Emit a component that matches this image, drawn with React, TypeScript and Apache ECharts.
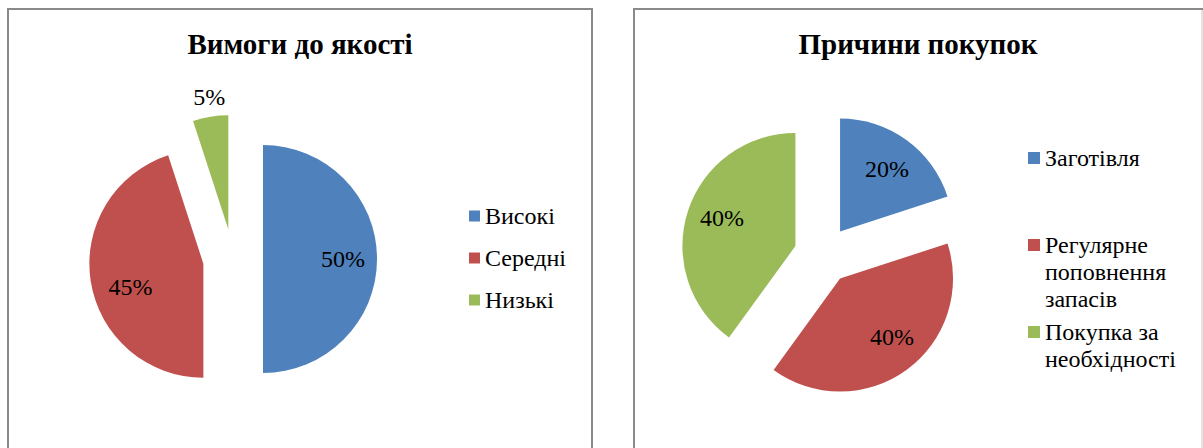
import React, { useEffect, useRef } from 'react';
import * as echarts from 'echarts';

// ---- data ----
const qualityTitle = 'Вимоги до якості';
const qualityCategories = ['Високі', 'Середні', 'Низькі'];
const qualityValues = [50, 45, 5];

const reasonsTitle = 'Причини покупок';
const reasonCategories = ['Заготівля', 'Регулярне поповнення запасів', 'Покупка за необхідності'];
const reasonValues = [20, 40, 40];
const reasonLegendLines = [['Заготівля'], ['Регулярне', 'поповнення', 'запасів'], ['Покупка за', 'необхідності']];

// ---- style / layout ----
const COLORS = ['#4F81BD', '#C0504D', '#9BBB59'];
const FONT = 'Liberation Serif';
const BORDER = '#8a8a8a';

type PieLayout = { center: [number, number]; radius: number; offset: number; labelPolar: [number, number][] };
const LEFT_PIE: PieLayout = { center: [233, 259], radius: 114, offset: 30, labelPolar: [[90, 80], [252.5, 76.5], [351.8, 133.4]] };
const RIGHT_PIE: PieLayout = { center: [823, 255], radius: 113, offset: 29, labelPolar: [[36.9, 78], [138.4, 78.3], [290.9, 78.6]] };
const LEGEND_LINE = 27;
const RIGHT_LEGEND_FIRST_LINE_Y = [158, 245, 332];

function makeLabelLayout(values: number[], pie: PieLayout) {
  const total = values.reduce((a, b) => a + b, 0);
  const mids: number[] = [];
  let cum = 0;
  values.forEach((v) => {
    mids.push(((cum + v / 2) / total) * 360);
    cum += v;
  });
  return (params: any) => {
    const i = params.dataIndex;
    const m = (mids[i] * Math.PI) / 180;
    const sx = pie.center[0] + pie.offset * Math.sin(m);
    const sy = pie.center[1] - pie.offset * Math.cos(m);
    const [a, r] = pie.labelPolar[i];
    const ar = (a * Math.PI) / 180;
    return { x: sx + r * Math.sin(ar), y: sy - r * Math.cos(ar), align: 'center', verticalAlign: 'middle' };
  };
}

// exploded slices (no labels)
function pieSeries(names: string[], values: number[], pie: PieLayout) {
  return {
    type: 'pie',
    center: pie.center,
    radius: pie.radius,
    startAngle: 90,
    clockwise: true,
    selectedMode: 'multiple',
    selectedOffset: pie.offset,
    emphasis: { disabled: true, scale: false },
    itemStyle: { borderWidth: 0 },
    label: { show: false },
    labelLine: { show: false },
    data: names.map((name, i) => ({
      name,
      value: values[i],
      selected: true,
      itemStyle: { color: COLORS[i], borderWidth: 0 },
      select: { itemStyle: { color: COLORS[i], borderWidth: 0 } },
    })),
  };
}

// transparent twin series carrying the percentage labels
function labelSeries(names: string[], values: number[], pie: PieLayout) {
  return {
    type: 'pie',
    center: pie.center,
    radius: pie.radius,
    startAngle: 90,
    clockwise: true,
    selectedMode: false,
    silent: true,
    avoidLabelOverlap: false,
    percentPrecision: 0,
    emphasis: { disabled: true, scale: false },
    itemStyle: { color: 'rgba(0,0,0,0)', borderWidth: 0 },
    label: { show: true, position: 'inside', formatter: '{d}%', color: '#000', fontFamily: FONT, fontSize: 24 },
    labelLine: { show: false },
    labelLayout: makeLabelLayout(values, pie),
    data: names.map((name, i) => ({ name, value: values[i] })),
  };
}

const legendText = { fontFamily: FONT, fontSize: 24, color: '#000' };

export default function App() {
  const ref = useRef<HTMLDivElement>(null);
  useEffect(() => {
    if (!ref.current) return;
    const chart = echarts.init(ref.current, null, { renderer: 'svg' });
    chart.setOption({
      animation: false,
      backgroundColor: '#fff',
      color: COLORS,
      textStyle: { fontFamily: FONT },
      title: [
        { text: qualityTitle, left: 300, top: 29, textAlign: 'center', padding: 0, textStyle: { fontFamily: FONT, fontSize: 29, fontWeight: 'bold', color: '#000' } },
        { text: reasonsTitle, left: 918, top: 29, textAlign: 'center', padding: 0, textStyle: { fontFamily: FONT, fontSize: 29, fontWeight: 'bold', color: '#000' } },
      ],
      legend: [
        {
          orient: 'vertical', left: 469, top: 204, padding: 0, icon: 'rect', itemWidth: 11, itemHeight: 11, itemGap: 18,
          selectedMode: false, data: qualityCategories, textStyle: { ...legendText, lineHeight: 24 },
        },
        ...reasonCategories.map((name, i) => {
          const lines = reasonLegendLines[i];
          // blank lines above keep the marker level with the first text line
          const text = new Array(lines.length - 1).fill('').concat(lines).join('\n');
          const blockLines = lines.length * 2 - 1;
          return {
            orient: 'vertical', left: 1028, top: RIGHT_LEGEND_FIRST_LINE_Y[i] - (blockLines * LEGEND_LINE) / 2, padding: 0,
            icon: 'rect', itemWidth: 12, itemHeight: 12, selectedMode: false, formatter: () => text, data: [name],
            textStyle: { ...legendText, lineHeight: LEGEND_LINE },
          };
        }),
      ],
      graphic: [
        { type: 'rect', shape: { x: 8, y: 9, width: 584, height: 470 }, style: { fill: 'none', stroke: BORDER, lineWidth: 2 }, silent: true },
        { type: 'line', shape: { x1: 633, y1: 9, x2: 1203, y2: 9 }, style: { stroke: BORDER, lineWidth: 2 }, silent: true },
        { type: 'line', shape: { x1: 634, y1: 8, x2: 634, y2: 448 }, style: { stroke: BORDER, lineWidth: 2 }, silent: true },
        { type: 'line', shape: { x1: 1202, y1: 10, x2: 1202, y2: 448 }, style: { stroke: '#c8c8c8', lineWidth: 1 }, silent: true },
      ],
      series: [
        pieSeries(qualityCategories, qualityValues, LEFT_PIE),
        pieSeries(reasonCategories, reasonValues, RIGHT_PIE),
        labelSeries(qualityCategories, qualityValues, LEFT_PIE),
        labelSeries(reasonCategories, reasonValues, RIGHT_PIE),
      ],
    });
    return () => chart.dispose();
  }, []);
  return <div ref={ref} style={{ position: 'absolute', left: 0, top: 0, width: 1203, height: 448 }} />;
}
